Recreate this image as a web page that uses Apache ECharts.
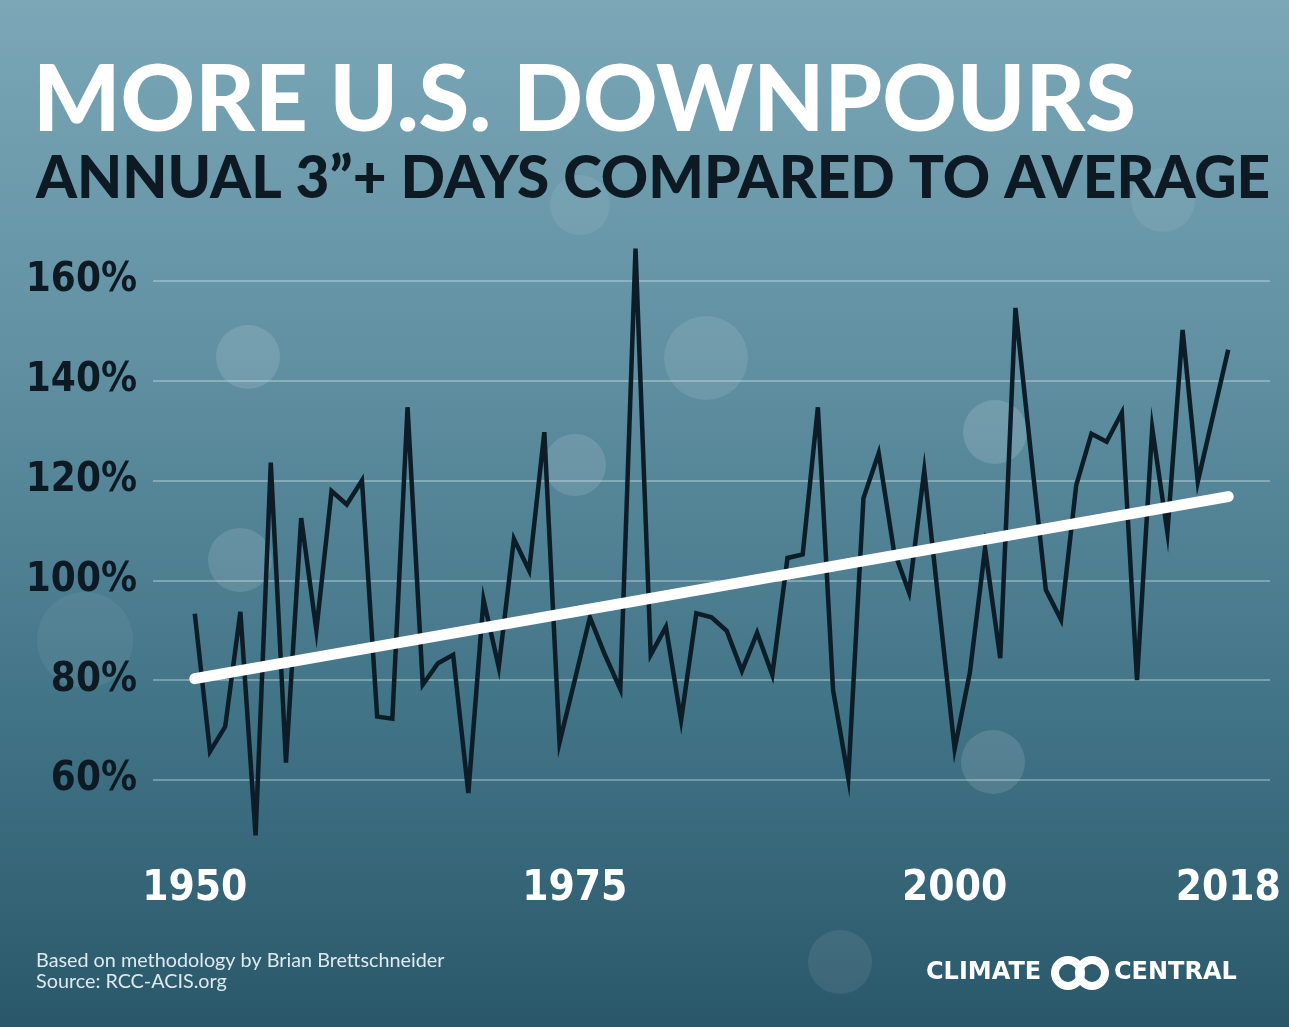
<!DOCTYPE html>
<html>
  <head>
    <meta http-equiv="Content-Type" content="text/html; charset=UTF-8">
    <title>More U.S. Downpours</title>
    <style type="text/css">
      body {
        margin: 0;
        padding: 0;
        background-color: #4f7f90;
      }
      #main {
        width: 1289px;
        height: 1027px;
      }
    </style>
  </head>
  <body>
    <div id="main"></div>
    <script src="https://cdn.jsdelivr.net/npm/echarts@6.0.0/dist/echarts.min.js" type="text/javascript"></script>
    <script type="text/javascript">
        // years 1950 - 2018
        var years = [1950, 1951, 1952, 1953, 1954, 1955, 1956, 1957, 1958, 1959,
                     1960, 1961, 1962, 1963, 1964, 1965, 1966, 1967, 1968, 1969,
                     1970, 1971, 1972, 1973, 1974, 1975, 1976, 1977, 1978, 1979,
                     1980, 1981, 1982, 1983, 1984, 1985, 1986, 1987, 1988, 1989,
                     1990, 1991, 1992, 1993, 1994, 1995, 1996, 1997, 1998, 1999,
                     2000, 2001, 2002, 2003, 2004, 2005, 2006, 2007, 2008, 2009,
                     2010, 2011, 2012, 2013, 2014, 2015, 2016, 2017, 2018];
        // annual 3"+ days, % of average
        var pctOfAverage = [93.3, 65.7, 70.7, 93.7, 48.9, 123.6, 63.5, 112.5, 90.0, 117.9,
                            115.2, 120.0, 72.7, 72.3, 134.7, 79.1, 83.4, 85.1, 57.4, 96.1,
                            82.6, 108.3, 102.0, 129.7, 67.5, 80.0, 92.6, 85.0, 78.2, 166.5,
                            85.1, 90.7, 72.0, 93.4, 92.6, 89.9, 81.9, 89.5, 81.1, 104.5,
                            105.2, 134.7, 78.0, 60.4, 116.5, 125.5, 106.0, 97.6, 122.0, 94.0,
                            66.2, 81.5, 106.4, 84.4, 154.6, 126.0, 98.1, 92.1, 119.1, 129.4,
                            127.8, 133.6, 80.0, 130.5, 109.6, 150.2, 119.8, 133.0, 146.2];
        // linear trend end points
        var trendYears = [1950, 2018];
        var trendValues = [80.3, 116.8];
        // axis labels
        var yearLabels = [1950, 1975, 2000, 2018];

        var lineData = years.map(function (y, i) { return [y, pctOfAverage[i]]; });
        var trendData = trendYears.map(function (y, i) { return [y, trendValues[i]]; });

        var condensed = '"DejaVu Sans Condensed", "DejaVu Sans", sans-serif';

        // soft bokeh spots in the backdrop
        var spots = [
            [248, 357, 32, 0.13], [240, 560, 32, 0.12], [575, 465, 31, 0.12],
            [706, 358, 42, 0.10], [995, 432, 32, 0.14], [993, 762, 32, 0.12],
            [840, 962, 32, 0.08], [85, 640, 48, 0.06], [1163, 200, 32, 0.07],
            [580, 205, 30, 0.07]
        ];
        var spotGraphics = spots.map(function (s) {
            return {
                type: 'circle', silent: true, z: -1,
                shape: { cx: s[0], cy: s[1], r: s[2] },
                style: { fill: 'rgba(255,255,255,' + s[3] + ')' }
            };
        });

        var myChart = echarts.init(document.getElementById('main'));
        var option = {
            backgroundColor: {
                type: 'linear', x: 0, y: 0, x2: 0, y2: 1,
                colorStops: [
                    { offset: 0, color: '#7ba7b7' },
                    { offset: 0.35, color: '#6090a2' },
                    { offset: 0.7, color: '#417386' },
                    { offset: 1, color: '#2a586a' }
                ]
            },
            animation: false,
            title: [{
                text: 'MORE U.S. DOWNPOURS',
                left: 28, top: 50,
                textStyle: { color: '#ffffff', fontFamily: 'Lato', fontWeight: 900, fontSize: 92 }
            }, {
                text: 'ANNUAL 3\u201D+ DAYS COMPARED TO AVERAGE',
                left: 31, top: 145,
                textStyle: { color: '#0e1a23', fontFamily: 'Lato', fontWeight: 900, fontSize: 58.5 }
            }, {
                text: 'Based on methodology by Brian Brettschneider\nSource: RCC-ACIS.org',
                left: 31, top: 945,
                textStyle: { color: '#dfe9ee', fontFamily: 'Lato', fontWeight: 'normal', fontSize: 19.8, lineHeight: 21 }
            }],
            graphic: spotGraphics.concat([
                {
                    type: 'text', left: 926, top: 961,
                    style: { text: 'CLIMATE', fill: '#ffffff', font: 'bold 24px "DejaVu Sans"' }
                },
                {
                    type: 'circle', shape: { cx: 1068, cy: 973, r: 13 },
                    style: { fill: 'none', stroke: '#ffffff', lineWidth: 8 }
                },
                {
                    type: 'circle', shape: { cx: 1092, cy: 973, r: 13 },
                    style: { fill: 'none', stroke: '#ffffff', lineWidth: 8 }
                },
                {
                    type: 'text', left: 1114, top: 961,
                    style: { text: 'CENTRAL', fill: '#ffffff', font: 'bold 24px "DejaVu Sans"' }
                }
            ]),
            grid: { left: 153, right: 19, top: 281, bottom: 247 },
            xAxis: {
                type: 'value',
                min: 1947.25,
                max: 2020.75,
                axisLine: { show: false },
                axisTick: { show: false },
                splitLine: { show: false },
                axisLabel: {
                    customValues: yearLabels,
                    margin: 88,
                    color: '#ffffff',
                    fontFamily: condensed,
                    fontWeight: 'bold',
                    fontSize: 42,
                    formatter: function (v) { return String(v); }
                }
            },
            yAxis: {
                type: 'value',
                min: 60,
                max: 160,
                interval: 20,
                axisLine: { show: false },
                axisTick: { show: false },
                splitLine: { lineStyle: { color: 'rgba(225,240,245,0.45)', width: 1.5 } },
                axisLabel: {
                    margin: 16,
                    color: '#0e1a23',
                    fontFamily: condensed,
                    fontWeight: 'bold',
                    fontSize: 40,
                    formatter: '{value}%'
                }
            },
            series: [{
                name: 'Annual 3"+ days',
                type: 'line',
                data: lineData,
                clip: false,
                symbol: 'none',
                lineStyle: { color: '#0d1d28', width: 4.5, join: 'miter' },
                z: 3
            }, {
                name: 'Trend',
                type: 'line',
                data: trendData,
                clip: false,
                symbol: 'none',
                lineStyle: { color: '#ffffff', width: 11, cap: 'round' },
                z: 4
            }]
        };
        myChart.setOption(option);
    </script>
  </body>
</html>
